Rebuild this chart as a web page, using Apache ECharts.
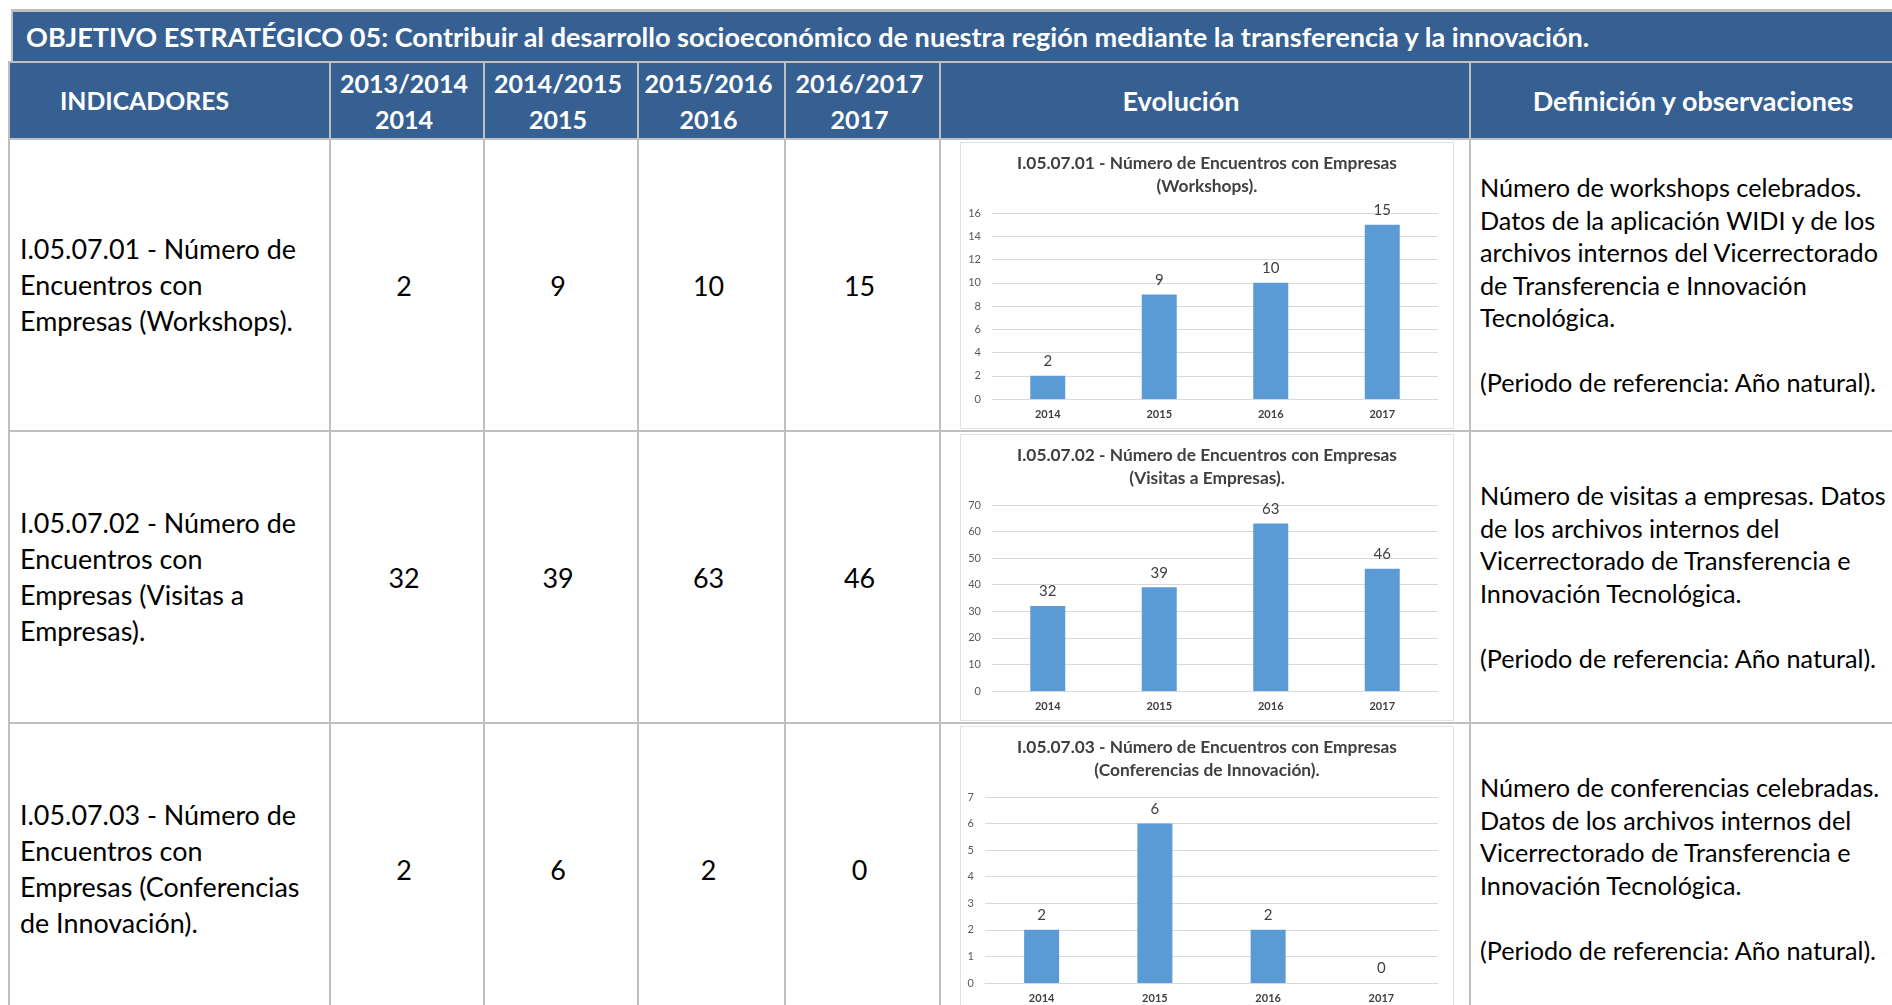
<!DOCTYPE html>
<html lang="es">
<head>
<meta charset="utf-8">
<title>Objetivo estratégico 05</title>
<script src="https://cdn.jsdelivr.net/npm/echarts@6/dist/echarts.min.js"></script>
<style>
  html, body { margin: 0; padding: 0; background: #fff; }
  body {
    width: 1892px;
    height: 1005px;
    overflow: hidden;
    position: relative;
    font-family: Lato, sans-serif;
    color: #000;
  }
  /* banda del objetivo */
  .objetivo {
    position: absolute;
    left: 11px;
    top: 9px;
    width: 1900px;
    height: 52px;
    box-sizing: border-box;
    border: 2px solid #bfbfbf;
    border-top-width: 3px;
    border-bottom: none;
    background: #366092;
    color: #fff;
    font-weight: 700;
    font-size: var(--title-fs);
    display: flex;
    align-items: center;
    padding-left: 13px;
    white-space: nowrap;
  }
  .tabla {
    position: absolute;
    left: 8px;
    top: 61px;
    display: grid;
    grid-template-columns: 321px 154px 154px 147px 155px 530px 446px;
    grid-template-rows: 77px 292px 292px 292px;
    border-left: 2px solid #bfbfbf;
    border-top: 2px solid #bfbfbf;
  }
  .tabla > div {
    box-sizing: border-box;
    border-right: 2px solid #bfbfbf;
    border-bottom: 2px solid #bfbfbf;
    position: relative;
    white-space: nowrap;
  }
  .cab {
    background: #366092;
    color: #fff;
    font-weight: 700;
    line-height: 36px;
    display: flex;
    align-items: center;
    justify-content: center;
    text-align: center;
  }
  .cab.izq { padding-right: 50px; }
  .cab.anio { padding-right: 6px; }
  .cab.evol { padding-right: 48px; }
  .ind {
    display: flex;
    align-items: center;
    padding-left: 10px;
    font-size: var(--ind-fs);
    line-height: 36px;
  }
  .num {
    display: flex;
    align-items: center;
    justify-content: center;
    padding-right: 6px;
    font-size: var(--ind-fs);
  }
  .def {
    display: flex;
    align-items: center;
    padding-left: 9px;
    font-size: var(--def-fs);
    line-height: 32.6px;
  }
  .grafico {
    position: absolute;
    left: 19px;
    top: 2px;
    width: 494px;
    height: 287px;
    box-sizing: border-box;
    border: 1px solid #e2e2e2;
    background: #fff;
  }
  .grafico > div { width: 100%; height: 100%; }
</style>
</head>
<body>
<div class="objetivo" id="objetivo"></div>
<div class="tabla" id="tabla"></div>
<script>
// datos
const objetivo = "OBJETIVO ESTRATÉGICO 05: Contribuir al desarrollo socioeconómico de nuestra región mediante la transferencia y la innovación.";
const cabIndicadores = "INDICADORES";
const cabEvolucion = "Evolución";
const cabDefinicion = "Definición y observaciones";
const periodos = ["2013/2014", "2014/2015", "2015/2016", "2016/2017"];
const anios = ["2014", "2015", "2016", "2017"];

const workshops = [2, 9, 10, 15];
const visitas = [32, 39, 63, 46];
const conferencias = [2, 6, 2, 0];

const indicadores = [
  "I.05.07.01 - Número de\nEncuentros con\nEmpresas (Workshops).",
  "I.05.07.02 - Número de\nEncuentros con\nEmpresas (Visitas a\nEmpresas).",
  "I.05.07.03 - Número de\nEncuentros con\nEmpresas (Conferencias\nde Innovación)."
];
const titulosGrafico = [
  "I.05.07.01 - Número de Encuentros con Empresas\n(Workshops).",
  "I.05.07.02 - Número de Encuentros con Empresas\n(Visitas a Empresas).",
  "I.05.07.03 - Número de Encuentros con Empresas\n(Conferencias de Innovación)."
];
const definiciones = [
  "Número de workshops celebrados.\nDatos de la aplicación WIDI y de los\narchivos internos del Vicerrectorado\nde Transferencia e Innovación\nTecnológica.\n\n(Periodo de referencia: Año natural).",
  "Número de visitas a empresas. Datos\nde los archivos internos del\nVicerrectorado de Transferencia e\nInnovación Tecnológica.\n\n(Periodo de referencia: Año natural).",
  "Número de conferencias celebradas.\nDatos de los archivos internos del\nVicerrectorado de Transferencia e\nInnovación Tecnológica.\n\n(Periodo de referencia: Año natural)."
];
const ejeMax = [16, 70, 7];
const ejePaso = [2, 10, 1];

const series = [workshops, visitas, conferencias];

// tamaños de letra ajustados al ancho del original
const ctx = document.createElement("canvas").getContext("2d");
function ajustar(texto, peso, ancho) {
  ctx.font = peso + " 100px Lato";
  return 100 * ancho / ctx.measureText(texto).width;
}
const raiz = document.documentElement.style;
raiz.setProperty("--title-fs", ajustar(objetivo, "bold", 1566).toFixed(2) + "px");
raiz.setProperty("--ind-fs", ajustar("I.05.07.01 - Número de", "normal", 276).toFixed(2) + "px");
raiz.setProperty("--def-fs", ajustar("(Periodo de referencia: Año natural).", "normal", 397).toFixed(2) + "px");
const fsIndicadores = ajustar(cabIndicadores, "bold", 169);
const fsPeriodo = ajustar(periodos[0], "bold", 128);
const fsEvolucion = ajustar(cabEvolucion, "bold", 117);
const fsDefinicion = ajustar(cabDefinicion, "bold", 322);
const tituloFs = ajustar("I.05.07.01 - Número de Encuentros con Empresas", "bold", 380);

function conSaltos(t) {
  return t.split("\n").map(l => l === "" ? "&nbsp;" : l).join("<br>");
}

document.getElementById("objetivo").textContent = objetivo;

// tabla
const tabla = document.getElementById("tabla");
function celda(clase, html, fs) {
  const d = document.createElement("div");
  d.className = clase;
  if (html !== undefined) d.innerHTML = "<span>" + html + "</span>";
  if (fs) d.style.fontSize = fs.toFixed(2) + "px";
  tabla.appendChild(d);
  return d;
}
celda("cab izq", cabIndicadores, fsIndicadores);
periodos.forEach((p, i) => celda("cab anio", p + "<br>" + anios[i], fsPeriodo));
celda("cab evol", cabEvolucion, fsEvolucion);
celda("cab", cabDefinicion, fsDefinicion);

const charts = [];
series.forEach((valores, i) => {
  celda("ind", conSaltos(indicadores[i]));
  valores.forEach(v => celda("num", String(v)));
  const evo = celda("evo");
  const marco = document.createElement("div");
  marco.className = "grafico";
  const dom = document.createElement("div");
  marco.appendChild(dom);
  evo.appendChild(marco);
  charts.push(dom);
  celda("def", conSaltos(definiciones[i]));
});

// gráficos
const gridIzq = [31, 31, 24];
charts.forEach((dom, i) => {
  const chart = echarts.init(dom);
  chart.setOption({
    animation: false,
    title: {
      text: titulosGrafico[i],
      left: "center",
      top: 4,
      textStyle: {
        fontFamily: "Lato",
        fontWeight: "bold",
        fontSize: tituloFs,
        lineHeight: 23,
        color: "#404040"
      }
    },
    grid: {
      left: gridIzq[i],
      right: 15,
      top: 70,
      bottom: 29,
      containLabel: false,
      outerBoundsMode: "none"
    },
    xAxis: {
      type: "category",
      data: anios,
      axisTick: { show: false },
      axisLine: { lineStyle: { color: "#d9d9d9", width: 1 } },
      axisLabel: {
        margin: 10,
        color: "#404040",
        fontFamily: "Lato",
        fontWeight: "bold",
        fontSize: 11
      }
    },
    yAxis: {
      type: "value",
      min: 0,
      max: ejeMax[i],
      interval: ejePaso[i],
      axisLine: { show: false },
      axisTick: { show: false },
      splitLine: { lineStyle: { color: "#d9d9d9", width: 1 } },
      axisLabel: {
        margin: 11,
        color: "#595959",
        fontFamily: "Lato",
        fontSize: 11
      }
    },
    series: [
      {
        type: "bar",
        data: series[i],
        barWidth: 35,
        itemStyle: { color: "#5b9bd5" },
        label: {
          show: true,
          position: "top",
          distance: 7,
          color: "#404040",
          fontFamily: "Lato",
          fontSize: 15
        }
      }
    ]
  });
});
</script>
</body>
</html>
